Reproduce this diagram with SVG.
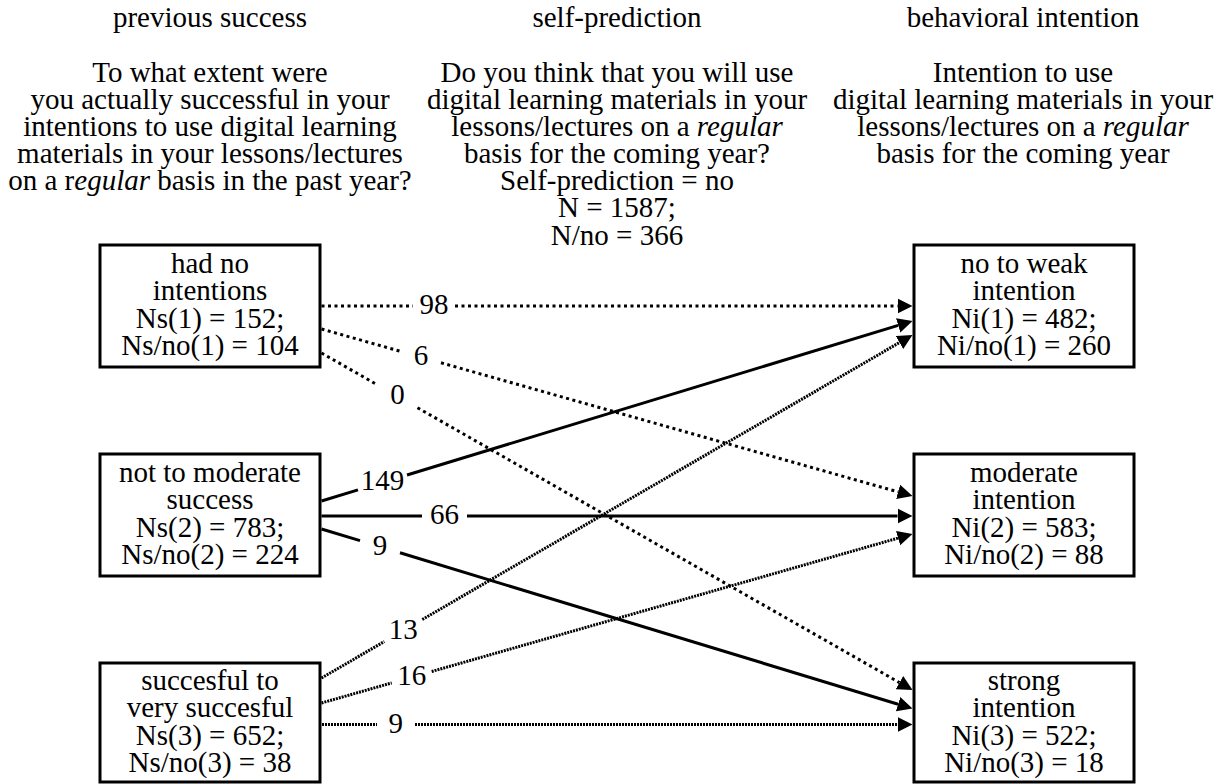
<svg xmlns="http://www.w3.org/2000/svg" width="1224" height="784" viewBox="0 0 1224 784">
<style>
.t { font-family: "Liberation Serif", "Times New Roman", serif; font-size: 29px; fill: #000; text-anchor: middle; }
.i { font-style: italic; }
.box { fill: #fff; stroke: #000; stroke-width: 3; }
.e { fill: none; stroke: #000; stroke-width: 3; marker-end: url(#ah); }
.dot { stroke-dasharray: 3 3.5; }
.fine { stroke-dasharray: 2 1; }
</style>
<defs>
<marker id="ah" markerUnits="userSpaceOnUse" markerWidth="16" markerHeight="16" refX="0" refY="8" orient="auto" viewBox="0 0 16 16">
<path d="M0,0.5 L15,8 L0,15.5 z" fill="#000"/>
</marker>
</defs>
<rect width="1224" height="784" fill="#fff"/>

<g id="header-left">
<text class="t" x="210" y="27">previous success</text>
<text class="t" x="210" y="82">To what extent were</text>
<text class="t" x="210" y="109">you actually successful in your</text>
<text class="t" x="210" y="136">intentions to use digital learning</text>
<text class="t" x="210" y="163">materials in your lessons/lectures</text>
<text class="t" x="210" y="190">on a r<tspan class="i">egular</tspan> basis in the past year?</text>
</g>
<g id="header-middle">
<text class="t" x="617" y="27">self-prediction</text>
<text class="t" x="617" y="82">Do you think that you will use</text>
<text class="t" x="617" y="109">digital learning materials in your</text>
<text class="t" x="617" y="136">lessons/lectures on a <tspan class="i">regular</tspan></text>
<text class="t" x="617" y="163">basis for the coming year?</text>
<text class="t" x="617" y="190">Self-prediction = no</text>
<text class="t" x="617" y="217">N = 1587;</text>
<text class="t" x="617" y="245">N/no = 366</text>
</g>
<g id="header-right">
<text class="t" x="1023" y="27">behavioral intention</text>
<text class="t" x="1023" y="82">Intention to use</text>
<text class="t" x="1023" y="109">digital learning materials in your</text>
<text class="t" x="1023" y="136">lessons/lectures on a <tspan class="i">regular</tspan></text>
<text class="t" x="1023" y="163">basis for the coming year</text>
</g>

<g id="connectors">
<path class="e dot" d="M321.5,306 L413,306 M455,306 L897.5,306"/>
<path class="e dot" d="M321.5,329 L401,351.46 M441,362.77 L898.1,491.9"/>
<path class="e dot" d="M321.5,353 L377.5,384.93 M417.5,407.74 L899.5,682.6"/>
<path class="e" d="M321.5,501 L358,489.88 M407,474.96 L898.2,325.4"/>
<path class="e" d="M321.5,516 L422,516 M467,516 L897.5,516"/>
<path class="e" d="M321.5,529 L360,540.66 M400,552.78 L898.1,704.2"/>
<path class="e fine" d="M321.5,678 L384.3,641.55 M422.3,619.5 L899.5,342.5"/>
<path class="e fine" d="M321.5,703 L391.7,682.93 M431.7,671.49 L898.1,538.1"/>
<path class="e fine" d="M322,724.5 L377,724.5 M415,724.5 L897.5,724.5"/>
<text class="t" x="434" y="314">98</text>
<text class="t" x="421" y="365">6</text>
<text class="t" x="397.5" y="404">0</text>
<text class="t" x="382.5" y="490">149</text>
<text class="t" x="444.5" y="524">66</text>
<text class="t" x="380" y="554.7">9</text>
<text class="t" x="403.3" y="638.5">13</text>
<text class="t" x="411.7" y="685.2">16</text>
<text class="t" x="395.7" y="732.5">9</text>
</g>

<g id="s1">
<rect class="box" x="100" y="245" width="220" height="122"/>
<text class="t" x="210" y="272.5">had no</text>
<text class="t" x="210" y="300">intentions</text>
<text class="t" x="210" y="327.5">Ns(1) = 152;</text>
<text class="t" x="210" y="355">Ns/no(1) = 104</text>
</g>
<g id="s2">
<rect class="box" x="100" y="454" width="220" height="122"/>
<text class="t" x="210" y="481.5">not to moderate</text>
<text class="t" x="210" y="509">success</text>
<text class="t" x="210" y="536.5">Ns(2) = 783;</text>
<text class="t" x="210" y="564">Ns/no(2) = 224</text>
</g>
<g id="s3">
<rect class="box" x="100" y="663" width="220" height="119"/>
<text class="t" x="210" y="689.5">succesful to</text>
<text class="t" x="210" y="717">very succesful</text>
<text class="t" x="210" y="744.5">Ns(3) = 652;</text>
<text class="t" x="210" y="772">Ns/no(3) = 38</text>
</g>
<g id="i1">
<rect class="box" x="914" y="245" width="220" height="122"/>
<text class="t" x="1024" y="272.5">no to weak</text>
<text class="t" x="1024" y="300">intention</text>
<text class="t" x="1024" y="327.5">Ni(1) = 482;</text>
<text class="t" x="1024" y="355">Ni/no(1) = 260</text>
</g>
<g id="i2">
<rect class="box" x="914" y="454" width="220" height="122"/>
<text class="t" x="1024" y="481.5">moderate</text>
<text class="t" x="1024" y="509">intention</text>
<text class="t" x="1024" y="536.5">Ni(2) = 583;</text>
<text class="t" x="1024" y="564">Ni/no(2) = 88</text>
</g>
<g id="i3">
<rect class="box" x="914" y="663" width="220" height="119"/>
<text class="t" x="1024" y="689.5">strong</text>
<text class="t" x="1024" y="717">intention</text>
<text class="t" x="1024" y="744.5">Ni(3) = 522;</text>
<text class="t" x="1024" y="772">Ni/no(3) = 18</text>
</g>
</svg>
